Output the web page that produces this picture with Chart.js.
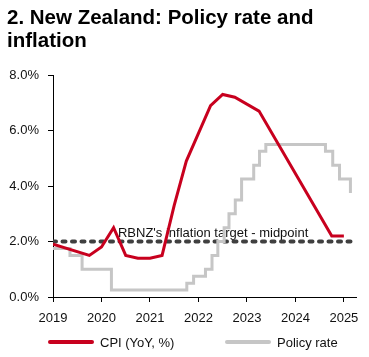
<!DOCTYPE html>
<html><head><meta charset="utf-8">
<script src="https://cdn.jsdelivr.net/npm/chart.js@4.4.1/dist/chart.umd.min.js"></script>
<style>
html,body{margin:0;padding:0;background:#fff;}
#wrap{position:relative;width:369px;height:357px;overflow:hidden;font-family:"Liberation Sans",Arial,sans-serif;}
#title{position:absolute;left:7px;top:6px;font-weight:bold;font-size:20.5px;line-height:22.7px;color:#000;white-space:nowrap;}
canvas{position:absolute;left:0;top:0;}
.leg{position:absolute;top:334px;height:16px;display:flex;align-items:center;font-size:13px;color:#111;white-space:nowrap;}
.sw{width:46px;height:4px;margin-right:6px;border-radius:2px;}
</style></head><body>
<div id="wrap">
<canvas id="c" width="369" height="357"></canvas>
<div id="title">2. New Zealand: Policy rate and<br>inflation</div>
<div id="legend"></div>
</div>
<script>
// ---- data ----
const cpiDates  = [2019.0, 2019.75, 2020.0, 2020.25, 2020.5, 2020.75, 2021.0, 2021.25, 2021.5, 2021.75, 2022.0, 2022.25, 2022.5, 2022.75, 2023.25, 2024.75, 2025.0];
const cpiValues = [1.9,    1.5,     1.8,    2.5,     1.5,    1.4,     1.4,    1.5,     3.3,    4.9,     5.9,    6.9,     7.3,    7.2,     6.7,     2.2,     2.2];

const policyDates  = [2019.0, 2019.35, 2019.60, 2020.205, 2021.76, 2021.90, 2022.145, 2022.28, 2022.40, 2022.53, 2022.63, 2022.76, 2022.89, 2023.14, 2023.26, 2023.39, 2024.62, 2024.77, 2024.91, 2025.135];
const policyValues = [1.75,   1.5,     1.0,     0.25,     0.5,     0.75,    1.0,      1.5,     2.0,     2.5,     3.0,     3.5,     4.25,    4.75,    5.25,    5.5,     5.25,    4.75,    4.25,    3.75];

const targetDates  = [2019.0, 2025.15];
const targetValues = [2.0, 2.0];
const targetLabel  = "RBNZ's inflation target - midpoint";
const targetLabelX = 2020.34;

const xTicks = [2019, 2020, 2021, 2022, 2023, 2024, 2025];
const yTicks = [0, 2, 4, 6, 8];

const seriesLabels = ['CPI (YoY, %)', 'Policy rate'];

// ---- styles ----
const RED = '#C8001E', GREY = '#C6C6C6', DARK = '#404040', TXT = '#111';
const FAMILY = '"Liberation Sans", Arial, sans-serif';

const toXY = (xs, ys) => xs.map((x, i) => ({x, y: ys[i]}));

const targetLabelPlugin = {
  id: 'targetLabel',
  beforeDatasetsDraw(chart) {
    const {ctx, scales: {x, y}} = chart;
    ctx.save();
    ctx.font = '13px ' + FAMILY;
    ctx.fillStyle = TXT;
    ctx.textBaseline = 'alphabetic';
    ctx.textAlign = 'left';
    ctx.fillText(targetLabel, x.getPixelForValue(targetLabelX), y.getPixelForValue(targetValues[0]) - 5);
    ctx.restore();
  }
};

const axisGrid = {drawOnChartArea: false, drawTicks: true, tickLength: 5, color: '#000', lineWidth: 1};
const axisBorder = {display: true, color: '#000', width: 1};

new Chart(document.getElementById('c'), {
  type: 'line',
  data: {
    datasets: [
      {label: seriesLabels[0], data: toXY(cpiDates, cpiValues), borderColor: RED, backgroundColor: RED, borderWidth: 3, pointRadius: 0, tension: 0, order: 0},
      {label: seriesLabels[1], data: toXY(policyDates, policyValues), borderColor: GREY, backgroundColor: GREY, borderWidth: 3, pointRadius: 0, stepped: 'before', order: 1},
      {label: 'target', data: toXY(targetDates, targetValues), borderColor: DARK, borderWidth: 4, borderDash: [3, 6.5], borderCapStyle: 'round', pointRadius: 0, order: 2}
    ]
  },
  options: {
    responsive: false, animation: false, devicePixelRatio: 1,
    layout: {padding: {left: 0, right: 13, top: 75, bottom: 30}},
    plugins: {legend: {display: false}, tooltip: {enabled: false}},
    scales: {
      x: {
        type: 'linear', min: 2019, max: 2025.25,
        afterFit(s) { s.height = 30; },
        afterBuildTicks(s) { s.ticks = xTicks.map(v => ({value: v})); },
        grid: axisGrid, border: axisBorder,
        ticks: {padding: 9, color: TXT, font: {family: FAMILY, size: 13}, maxRotation: 0, autoSkip: false, callback: v => String(v)}
      },
      y: {
        min: 0, max: 8,
        afterFit(s) { s.width = 53; },
        afterBuildTicks(s) { s.ticks = yTicks.map(v => ({value: v})); },
        grid: axisGrid, border: axisBorder,
        ticks: {padding: 9, color: TXT, font: {family: FAMILY, size: 13}, callback: v => Number(v).toFixed(1) + '%'}
      }
    }
  },
  plugins: [targetLabelPlugin]
});

// ---- HTML legend ----
const legend = document.getElementById('legend');
const legendColors = [RED, GREY];
const legendLefts = [48, 225];
seriesLabels.forEach((lab, i) => {
  const d = document.createElement('div');
  d.className = 'leg';
  d.style.left = legendLefts[i] + 'px';
  const sw = document.createElement('span');
  sw.className = 'sw';
  sw.style.background = legendColors[i];
  const t = document.createElement('span');
  t.textContent = lab;
  d.appendChild(sw); d.appendChild(t);
  legend.appendChild(d);
});
</script>
</body></html>
